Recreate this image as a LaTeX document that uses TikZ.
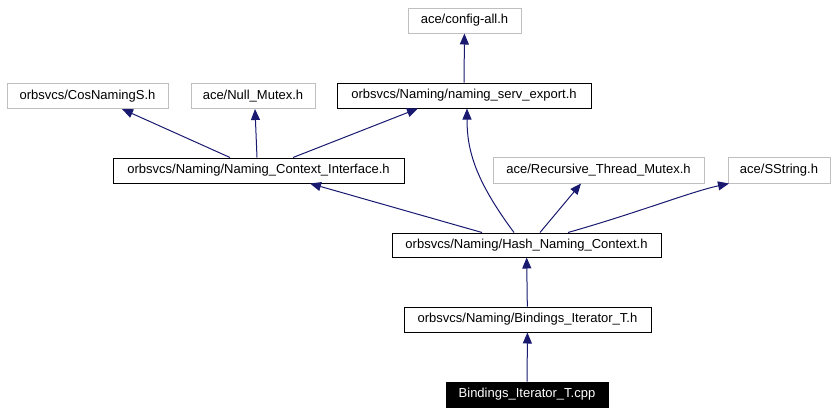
\documentclass[tikz,border=0pt]{standalone}
\usepackage{fontspec}
\setmainfont{Liberation Sans}
\usetikzlibrary{arrows.meta}

\definecolor{edgeblue}{RGB}{25,25,112}
\definecolor{boxgrey}{RGB}{191,191,191}

\tikzset{
  hdr/.style={draw=black, line width=1pt, minimum height=25pt, inner sep=0pt,
    font=\fontsize{13}{15}\selectfont},
  ext/.style={hdr, draw=boxgrey},
  cur/.style={hdr, fill=black, text=white},
  inc/.style={draw=edgeblue, line width=1pt,
    -{Triangle[length=11pt,width=9pt,fill=edgeblue]}},
}

\begin{document}
\begin{tikzpicture}[x=1pt,y=-1pt]
  \useasboundingbox (0,0) rectangle (836,413);

  \node[ext, minimum width=113pt] (config) at (464.5,20.5) {ace/config-all.h};
  \node[ext, minimum width=161pt] (cosnaming) at (87.5,96) {orbsvcs/CosNamingS.h};
  \node[ext, minimum width=124pt] (nullmutex) at (253,96) {ace/Null\_Mutex.h};
  \node[hdr, minimum width=254pt] (servexport) at (464,95.5) {orbsvcs/Naming/naming\_serv\_export.h};
  \node[hdr, minimum width=291pt] (ctxiface) at (258.5,170.5) {orbsvcs/Naming/Naming\_Context\_Interface.h};
  \node[ext, minimum width=211pt, minimum height=26pt] (recmutex) at (598.5,170) {ace/Recursive\_Thread\_Mutex.h};
  \node[ext, minimum width=102pt, minimum height=26pt] (sstring) at (779,170) {ace/SString.h};
  \node[hdr, minimum width=269pt, minimum height=24pt] (hashctx) at (526.5,245) {orbsvcs/Naming/Hash\_Naming\_Context.h};
  \node[hdr, minimum width=247pt] (bindings) at (527.5,319.5) {orbsvcs/Naming/Bindings\_Iterator\_T.h};
  \node[cur, minimum width=162pt] (bindcpp) at (527,394.5) {Bindings\_Iterator\_T.cpp};

  % include edges
  \draw[inc] (bindcpp) -- (bindings);
  \draw[inc] (bindings) -- (hashctx);
  \draw[inc] ([xshift=-44.5pt]hashctx.north) -- ([xshift=51.5pt]ctxiface.south);
  \draw[inc] ([xshift=-12.5pt]hashctx.north) .. controls (475,180) and (467,150) .. ([xshift=3pt]servexport.south);
  \draw[inc] ([xshift=13.5pt]hashctx.north) -- ([xshift=-17.5pt]recmutex.south);
  \draw[inc] ([xshift=41.5pt]hashctx.north) .. controls (640,212) and (690,192) .. ([xshift=-50pt]sstring.south);
  \draw[inc] ([xshift=-28.5pt]ctxiface.north) -- ([xshift=34.5pt]cosnaming.south);
  \draw[inc] ([xshift=-1.5pt]ctxiface.north) -- ([xshift=2pt]nullmutex.south);
  \draw[inc] ([xshift=34.5pt]ctxiface.north) -- ([xshift=-46pt]servexport.south);
  \draw[inc] (servexport) -- (config);
\end{tikzpicture}
\end{document}
